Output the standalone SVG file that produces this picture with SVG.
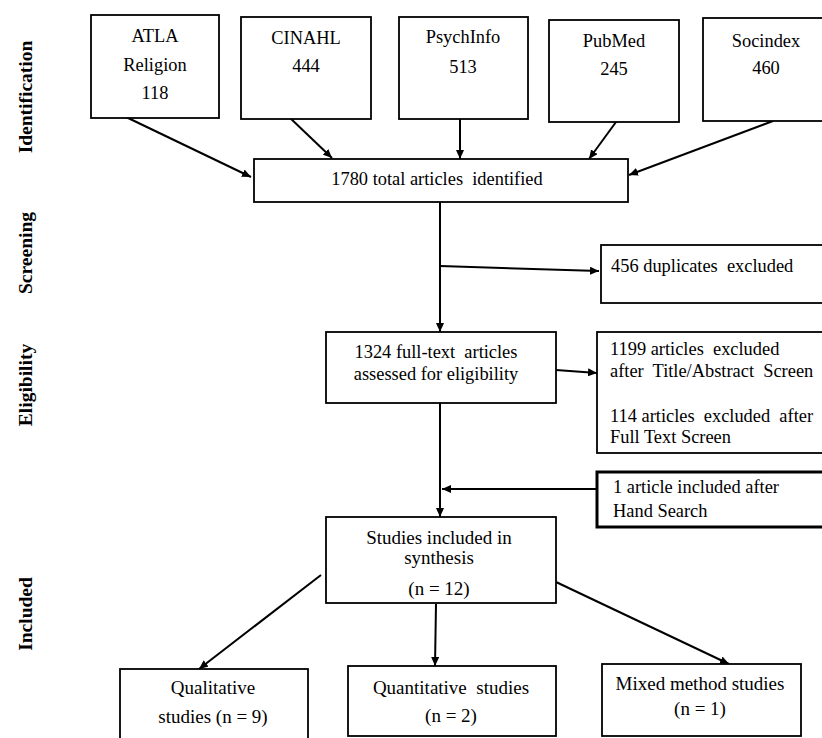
<svg xmlns="http://www.w3.org/2000/svg" width="822" height="738" viewBox="0 0 822 738">
<style>
.box{fill:#fff;stroke:#000;stroke-width:1.8}
.thick{stroke-width:3}
.t{font-family:"Liberation Serif","Times New Roman",serif;font-size:18.4px;fill:#000}
.c{text-anchor:middle}
.b{font-family:"Liberation Serif","Times New Roman",serif;font-size:19.5px;font-weight:bold;fill:#000;text-anchor:middle}
.s{font-size:19px}
.ln{stroke:#000;stroke-width:2;fill:none}
</style>
<defs>
<marker id="ah" markerUnits="userSpaceOnUse" markerWidth="10" markerHeight="8" refX="9" refY="4" orient="auto">
<path d="M0,0 L9,4 L0,8 z" fill="#000"/>
</marker>
</defs>
<rect width="822" height="738" fill="#fff"/>
<g id="labels">
<text class="b" transform="translate(32,97) rotate(-90)">Identification</text>
<text class="b" transform="translate(32,253) rotate(-90)">Screening</text>
<text class="b" transform="translate(32,385) rotate(-90)">Eligibility</text>
<text class="b" transform="translate(32,614) rotate(-90)">Included</text>
</g>
<g id="connectors">
<line class="ln" x1="126" y1="117" x2="251" y2="177" marker-end="url(#ah)"/>
<line class="ln" x1="288" y1="116" x2="332" y2="158" marker-end="url(#ah)"/>
<line class="ln" x1="460" y1="119" x2="460" y2="159" marker-end="url(#ah)"/>
<line class="ln" x1="616" y1="122" x2="589" y2="159" marker-end="url(#ah)"/>
<line class="ln" x1="773" y1="121" x2="629" y2="175" marker-end="url(#ah)"/>
<line class="ln" x1="440" y1="202" x2="440" y2="332" marker-end="url(#ah)"/>
<line class="ln" x1="440" y1="266" x2="599" y2="271" marker-end="url(#ah)"/>
<line class="ln" x1="556" y1="370" x2="597" y2="373" marker-end="url(#ah)"/>
<line class="ln" x1="440" y1="403" x2="440" y2="517" marker-end="url(#ah)"/>
<line class="ln" x1="596" y1="489" x2="442" y2="489" stroke-width="3" marker-end="url(#ah)"/>
<line class="ln" x1="321" y1="575" x2="199" y2="669" marker-end="url(#ah)"/>
<line class="ln" x1="436" y1="604" x2="435" y2="666" marker-end="url(#ah)"/>
<line class="ln" x1="556" y1="582" x2="729" y2="664" marker-end="url(#ah)"/>
</g>
<g id="atla">
<rect class="box" x="91" y="15" width="128" height="103"/>
<text class="t c" x="155" y="42">ATLA</text>
<text class="t c" x="155" y="71">Religion</text>
<text class="t c" x="155" y="99">118</text>
</g>
<g id="cinahl">
<rect class="box" x="241" y="17" width="130" height="102"/>
<text class="t c" x="306" y="44">CINAHL</text>
<text class="t c" x="306" y="72">444</text>
</g>
<g id="psychinfo">
<rect class="box" x="399" y="17" width="129" height="102"/>
<text class="t c" x="463" y="43">PsychInfo</text>
<text class="t c" x="463" y="73">513</text>
</g>
<g id="pubmed">
<rect class="box" x="549" y="20" width="130" height="102"/>
<text class="t c" x="614" y="47">PubMed</text>
<text class="t c" x="614" y="75">245</text>
</g>
<g id="socindex">
<rect class="box" x="703" y="18" width="126" height="103"/>
<text class="t c" x="766" y="47">Socindex</text>
<text class="t c" x="766" y="74">460</text>
</g>
<g id="total">
<rect class="box" x="254" y="159" width="374" height="43"/>
<text class="t c" x="437" y="185" xml:space="preserve">1780 total articles  identified</text>
</g>
<g id="duplicates">
<rect class="box" x="601" y="245" width="226" height="58"/>
<text class="t" x="611" y="272" xml:space="preserve">456 duplicates  excluded</text>
</g>
<g id="fulltext">
<rect class="box" x="326" y="332" width="230" height="71"/>
<text class="t c" x="436" y="358" xml:space="preserve">1324 full-text  articles</text>
<text class="t c" x="436" y="380">assessed for eligibility</text>
</g>
<g id="excluded">
<rect class="box" x="597" y="332" width="230" height="121"/>
<text class="t" x="610" y="355" xml:space="preserve">1199 articles  excluded</text>
<text class="t" x="610" y="377" xml:space="preserve">after  Title/Abstract  Screen</text>
<text class="t" x="610" y="422" xml:space="preserve">114 articles  excluded  after</text>
<text class="t" x="610" y="443">Full Text Screen</text>
</g>
<g id="handsearch">
<rect class="box thick" x="597" y="472" width="230" height="55"/>
<text class="t" x="613" y="493">1 article included after</text>
<text class="t" x="613" y="517">Hand Search</text>
</g>
<g id="synthesis">
<rect class="box" x="326" y="517" width="230" height="86"/>
<text class="t c s" x="439" y="544">Studies included in</text>
<text class="t c s" x="439" y="564">synthesis</text>
<text class="t c s" x="439" y="595">(n = 12)</text>
</g>
<g id="qualitative">
<rect class="box" x="120" y="669" width="188" height="80"/>
<text class="t c s" x="213" y="694">Qualitative</text>
<text class="t c s" x="213" y="723">studies (n = 9)</text>
</g>
<g id="quantitative">
<rect class="box" x="348" y="666" width="208" height="70"/>
<text class="t c s" x="451" y="694" xml:space="preserve">Quantitative  studies</text>
<text class="t c s" x="451" y="722">(n = 2)</text>
</g>
<g id="mixed">
<rect class="box" x="602" y="664" width="199" height="72"/>
<text class="t c s" x="700" y="690">Mixed method studies</text>
<text class="t c s" x="700" y="715">(n = 1)</text>
</g>
</svg>
